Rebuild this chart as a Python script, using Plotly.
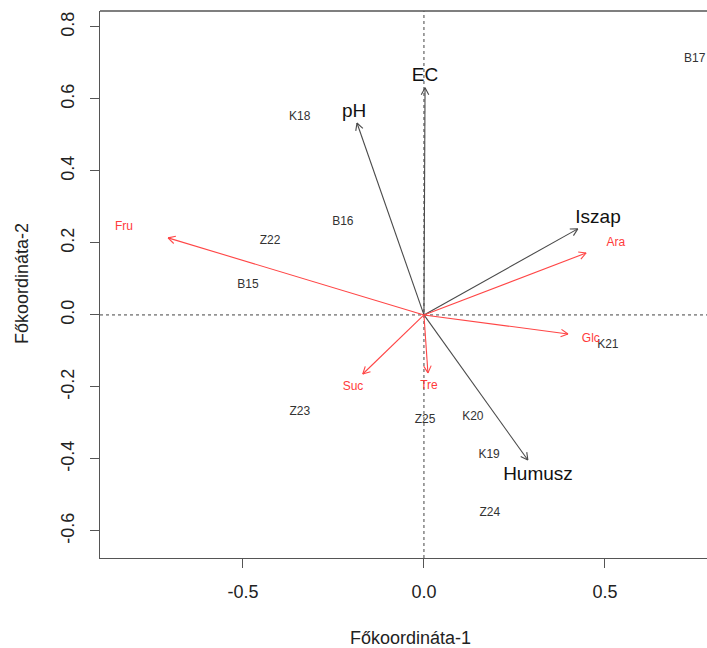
import numpy as np
import plotly.graph_objects as go

# --- sample scores (site labels) ---
sample_names = ["B17", "K18", "B16", "Z22", "B15", "Z23", "Z25", "K20", "K19", "Z24", "K21"]
sample_x = [0.748, -0.343, -0.224, -0.425, -0.486, -0.343, 0.003, 0.135, 0.180, 0.182, 0.508]
sample_y = [0.711, 0.550, 0.258, 0.206, 0.083, -0.269, -0.292, -0.283, -0.389, -0.550, -0.083]

# --- environmental vectors (black) ---
env_names = ["EC", "pH", "Iszap", "Humusz"]
env_x = [0.003, -0.185, 0.425, 0.287]
env_y = [0.631, 0.533, 0.239, -0.403]
env_label_x = [0.003, -0.193, 0.481, 0.315]
env_label_y = [0.664, 0.564, 0.269, -0.444]

# --- sugar vectors (red) ---
sug_names = ["Fru", "Ara", "Glc", "Suc", "Tre"]
sug_x = [-0.707, 0.448, 0.398, -0.169, 0.011]
sug_y = [0.214, 0.172, -0.053, -0.164, -0.161]
sug_label_x = [-0.829, 0.530, 0.461, -0.196, 0.014]
sug_label_y = [0.244, 0.200, -0.067, -0.200, -0.197]

x_ticks = [-0.5, 0.0, 0.5]
y_ticks = [-0.6, -0.4, -0.2, 0.0, 0.2, 0.4, 0.6, 0.8]
x_title = "Főkoordináta-1"
y_title = "Főkoordináta-2"

FONT = "Liberation Sans, Arial, sans-serif"
W, H = 707, 648
ML, MR, MT, MB = 100, 0, 11, 90
XR = [-0.895, 0.782]
YR = [-0.675, 0.844]
px_per_x = (W - ML - MR) / (XR[1] - XR[0])
px_per_y = (H - MT - MB) / (YR[1] - YR[0])


def arrow_xy(xs, ys, head_px=8, ang=np.deg2rad(28)):
    """Build line segments (shaft + open V head) from origin to each tip."""
    X, Y = [], []
    for tx, ty in zip(xs, ys):
        dx, dy = tx * px_per_x, ty * px_per_y
        n = np.hypot(dx, dy)
        ux, uy = dx / n, dy / n
        X += [0, tx, None]
        Y += [0, ty, None]
        for s in (1, -1):
            c, sn = np.cos(s * ang), np.sin(s * ang)
            rx = ux * c - uy * sn
            ry = ux * sn + uy * c
            X += [tx, tx - head_px * rx / px_per_x, None]
            Y += [ty, ty - head_px * ry / px_per_y, None]
    return X, Y


fig = go.Figure()

ex, ey = arrow_xy(env_x, env_y)
fig.add_trace(go.Scatter(x=ex, y=ey, mode="lines",
                         line=dict(color="#4a4a4a", width=1.1),
                         hoverinfo="skip", showlegend=False))
sx, sy = arrow_xy(sug_x, sug_y)
fig.add_trace(go.Scatter(x=sx, y=sy, mode="lines",
                         line=dict(color="#ff4646", width=1.1),
                         hoverinfo="skip", showlegend=False))

fig.add_trace(go.Scatter(x=sample_x, y=sample_y, mode="text", text=sample_names,
                         textposition="middle center",
                         textfont=dict(family=FONT, size=12, color="#333333"),
                         hoverinfo="skip", showlegend=False, cliponaxis=False))
fig.add_trace(go.Scatter(x=env_label_x, y=env_label_y, mode="text", text=env_names,
                         textposition="middle center",
                         textfont=dict(family=FONT, size=19, color="#111111"),
                         hoverinfo="skip", showlegend=False))
fig.add_trace(go.Scatter(x=sug_label_x, y=sug_label_y, mode="text", text=sug_names,
                         textposition="middle center",
                         textfont=dict(family=FONT, size=12, color="#ff3b3b"),
                         hoverinfo="skip", showlegend=False))

# dotted zero lines
fig.add_shape(type="line", xref="x", yref="paper", x0=0, x1=0, y0=0, y1=1,
              line=dict(color="#444444", width=1, dash="dot"), layer="below")
fig.add_shape(type="line", xref="paper", yref="y", x0=0, x1=1, y0=0, y1=0,
              line=dict(color="#444444", width=1, dash="dot"), layer="below")
# top border of the box (right side is cut off)
fig.add_shape(type="line", xref="paper", yref="paper", x0=0, x1=1, y0=1, y1=1,
              line=dict(color="#555555", width=1.3))

axis_common = dict(showgrid=False, zeroline=False, showline=True,
                   linecolor="#555555", linewidth=1.3,
                   ticks="outside", ticklen=9, tickwidth=1.3, tickcolor="#555555",
                   tickfont=dict(family=FONT, size=18, color="#222222"))

fig.update_xaxes(range=XR, tickvals=x_ticks,
                 ticktext=[f"{v:.1f}" for v in x_ticks],
                 ticklabelstandoff=8, **axis_common)
fig.update_yaxes(range=YR, tickvals=y_ticks,
                 ticktext=[f"{v:.1f}" for v in y_ticks],
                 tickangle=-90, ticklabelstandoff=9, **axis_common)

plot_w = W - ML - MR
plot_h = H - MT - MB
fig.add_annotation(text=x_title, xref="paper", yref="paper",
                   x=(410 - ML) / plot_w, y=0, yanchor="middle", yshift=-(638 - (H - MB)),
                   showarrow=False, font=dict(family=FONT, size=18, color="#222222"))
fig.add_annotation(text=y_title, xref="paper", yref="paper",
                   x=0, xanchor="center", xshift=-(ML - 22),
                   y=((H - MB) - 284) / plot_h, textangle=-90,
                   showarrow=False, font=dict(family=FONT, size=18, color="#222222"))

fig.update_layout(width=W, height=H,
                  margin=dict(l=ML, r=MR, t=MT, b=MB),
                  plot_bgcolor="white", paper_bgcolor="white")

fig.write_html("out.html")
